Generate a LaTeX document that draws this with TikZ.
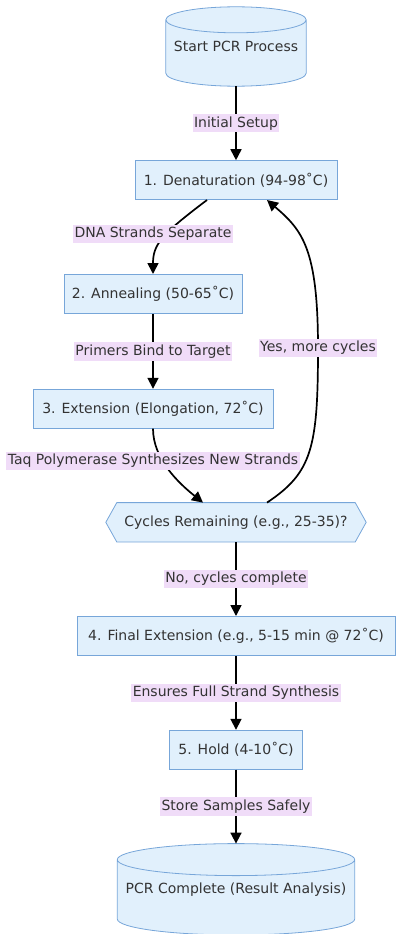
\documentclass[tikz,border=0pt]{standalone}
\usepackage{fontspec}
\setmainfont{DejaVu Sans}
\usetikzlibrary{positioning, arrows.meta, calc, backgrounds}
\definecolor{boxfill}{HTML}{E1F0FC}
\definecolor{boxedge}{HTML}{77A6D9}
\definecolor{lblfill}{HTML}{F0DCF8}
\definecolor{txt}{HTML}{333333}
\tikzset{arco/.style={line width=1.7pt, -{Triangle[length=11pt,width=11pt]}}}
\tikzset{stepbox/.style={draw=boxedge, fill=boxfill, line width=0.8pt, minimum height=39pt, inner xsep=4pt}}
\tikzset{decide/.style={minimum height=39pt, inner xsep=4pt}}
\tikzset{drum/.style={inner sep=0pt}}
\tikzset{drumline/.style={draw=boxedge, fill=boxfill, line width=0.8pt}}
\tikzset{lbl/.style={fill=lblfill, inner xsep=1.5pt, inner ysep=2.5pt}}
% cylinder round a node: name, half height of the ellipse
\newcommand{\drumshape}[2]{%
  \path[drumline] let \p1=(#1.north west), \p2=(#1.south east), \n1={(\x2-\x1)/2} in
    (\x1,\y1-#2pt) -- (\x1,\y2+#2pt) arc[start angle=180, end angle=360, x radius=\n1, y radius=#2pt]
    -- (\x2,\y1-#2pt) arc[start angle=0, end angle=180, x radius=\n1, y radius=#2pt] -- cycle
    (\x1,\y1-#2pt) arc[start angle=180, end angle=360, x radius=\n1, y radius=#2pt];}

\begin{document}
\begin{tikzpicture}[
            x=1pt, y=1pt,
            every node/.style={font=\fontsize{14pt}{17pt}\selectfont, text=txt}
        ]
            \useasboundingbox (0,0) rectangle (402,-934);

            \node[drum, minimum width=140pt, minimum height=79pt] (start) at (236,-46.5) {Start PCR Process};
            \node[stepbox, minimum width=202pt, below=74pt of start] (den) {1. Denaturation (94-98˚C)};
            \node[stepbox, minimum width=178pt, below=74pt of den, xshift=-83pt] (ann) {2. Annealing (50-65˚C)};
            \node[stepbox, minimum width=240pt, below=75pt of ann] (ext) {3. Extension (Elongation, 72˚C)};
            \node[decide, minimum width=260pt, below=74pt of ext, xshift=83pt] (cyc) {Cycles Remaining (e.g., 25-35)?};
            \node[stepbox, minimum width=318pt, below=74pt of cyc] (fin) {4. Final Extension (e.g., 5-15 min @ 72˚C)};
            \node[stepbox, minimum width=133pt, below=74pt of fin] (hold) {5. Hold (4-10˚C)};
            \node[drum, minimum width=237pt, minimum height=91pt, below=74pt of hold] (done) {PCR Complete (Result Analysis)};

            \begin{scope}[on background layer]
                \drumshape{start}{13}
                \drumshape{done}{16}
                \path[drumline] (cyc.west) -- ([xshift=11pt]cyc.north west) -- ([xshift=-11pt]cyc.north east)
                    -- (cyc.east) -- ([xshift=-11pt]cyc.south east) -- ([xshift=11pt]cyc.south west) -- cycle;
            \end{scope}

            \coordinate (back) at (318,-348);

            \draw[arco] (start) -- node[lbl] (l1) {Initial Setup} (den);
            \draw[arco] ([xshift=-29pt]den.south) .. controls +(-45pt,-34pt) and +(0,30pt) .. (ann.north);
            \draw[arco] (ann) -- node[lbl] (l3) {Primers Bind to Target} (ext);
            \draw[arco] (ext.south) .. controls +(0,-30pt) and +(-25pt,20pt) .. ([xshift=-33pt]cyc.north);
            \draw[arco] ([xshift=31pt]cyc.north) .. controls +(45pt,30pt) and +(0,-100pt) .. (back)
                .. controls +(0,100pt) and +(35pt,-30pt) .. ([xshift=31pt]den.south);
            \draw[arco] (cyc) -- node[lbl] (l6) {No, cycles complete} (fin);
            \draw[arco] (fin) -- node[lbl] (l7) {Ensures Full Strand Synthesis} (hold);
            \draw[arco] (hold) -- node[lbl] (l8) {Store Samples Safely} (done);

            \node[lbl] (l2) at (153,-234) {DNA Strands Separate};
            \node[lbl] (l4) at (153,-461) {Taq Polymerase Synthesizes New Strands};
            \node[lbl] (l5) at (back) {Yes, more cycles};
        \end{tikzpicture}
\end{document}
